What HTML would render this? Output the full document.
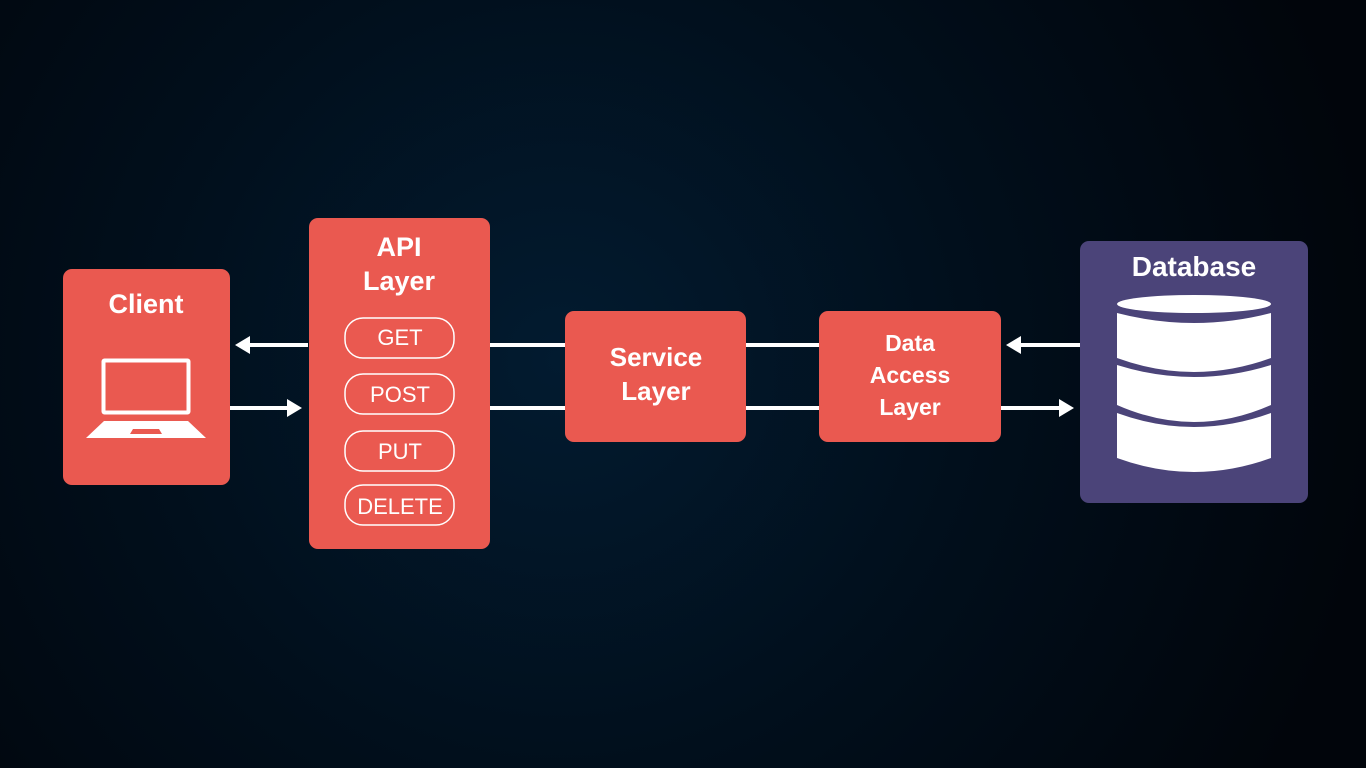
<!DOCTYPE html>
<html><head><meta charset="utf-8"><style>html,body{margin:0;padding:0;background:#01070e}svg{display:block}text{font-family:"Liberation Sans",Arial,sans-serif}</style></head>
<body>
<svg width="1366" height="768" viewBox="0 0 1366 768" xmlns="http://www.w3.org/2000/svg">
<defs>
<radialGradient id="bg" cx="560" cy="360" r="820" gradientUnits="userSpaceOnUse">
<stop offset="0" stop-color="#021b30"/><stop offset="0.5" stop-color="#010f1c"/><stop offset="1" stop-color="#01050b"/>
</radialGradient>
</defs>
<rect width="1366" height="768" fill="url(#bg)"/>
<g fill="#ea5950">
<rect x="63" y="269" width="167" height="216" rx="9"/>
<rect x="309" y="218" width="181" height="331" rx="9"/>
<rect x="565" y="311" width="181" height="131" rx="9"/>
<rect x="819" y="311" width="182" height="131" rx="9"/>
</g>
<rect x="1080" y="241" width="228" height="262" rx="9" fill="#4b4479"/>
<g stroke="#fff" stroke-width="4">
<line x1="308" y1="345" x2="248" y2="345"/><line x1="230" y1="408" x2="290" y2="408"/>
<line x1="490" y1="345" x2="565" y2="345"/><line x1="490" y1="408" x2="565" y2="408"/>
<line x1="746" y1="345" x2="819" y2="345"/><line x1="746" y1="408" x2="819" y2="408"/>
<line x1="1080" y1="345" x2="1018" y2="345"/><line x1="1001" y1="408" x2="1062" y2="408"/>
</g>
<g fill="#fff">
<polygon points="235,345 250,336 250,354"/>
<polygon points="302,408 287,399 287,417"/>
<polygon points="1006,345 1021,336 1021,354"/>
<polygon points="1074,408 1059,399 1059,417"/>
</g>
<rect x="103.5" y="360.5" width="85" height="52" fill="none" stroke="#fff" stroke-width="4" rx="1"/>
<polygon points="104,421 188,421 206,438 86,438" fill="#fff"/>
<polygon points="133,429 159,429 162,434 130,434" fill="#ea5950"/>
<g fill="none" stroke="#fff" stroke-width="1.5">
<rect x="345" y="318" width="109" height="40" rx="18"/>
<rect x="345" y="374" width="109" height="40" rx="18"/>
<rect x="345" y="431" width="109" height="40" rx="18"/>
<rect x="345" y="485" width="109" height="40" rx="18"/>
</g>
<g fill="#fff" font-size="22" text-anchor="middle">
<text x="400" y="345">GET</text>
<text x="400" y="402">POST</text>
<text x="400" y="459">PUT</text>
<text x="400" y="514">DELETE</text>
</g>
<g fill="#fff" font-weight="bold" text-anchor="middle">
<text x="146" y="313" font-size="27">Client</text>
<text x="399" y="256" font-size="27">API</text>
<text x="399" y="290" font-size="27">Layer</text>
<text x="656" y="366" font-size="26">Service</text>
<text x="656" y="400" font-size="26">Layer</text>
<text x="910" y="351" font-size="23">Data</text>
<text x="910" y="383" font-size="23">Access</text>
<text x="910" y="415" font-size="23">Layer</text>
<text x="1194" y="276" font-size="28">Database</text>
</g>
<g fill="#fff">
<ellipse cx="1194" cy="304" rx="77" ry="9"/>
<path d="M1117,313 Q1194,333 1271,313 L1271,358 Q1194,386 1117,358 Z"/>
<path d="M1117,365 Q1194,389 1271,365 L1271,405 Q1194,439 1117,405 Z"/>
<path d="M1117,413 Q1194,441 1271,413 L1271,458 Q1194,486 1117,458 Z"/>
</g>
</svg>
</body></html>
